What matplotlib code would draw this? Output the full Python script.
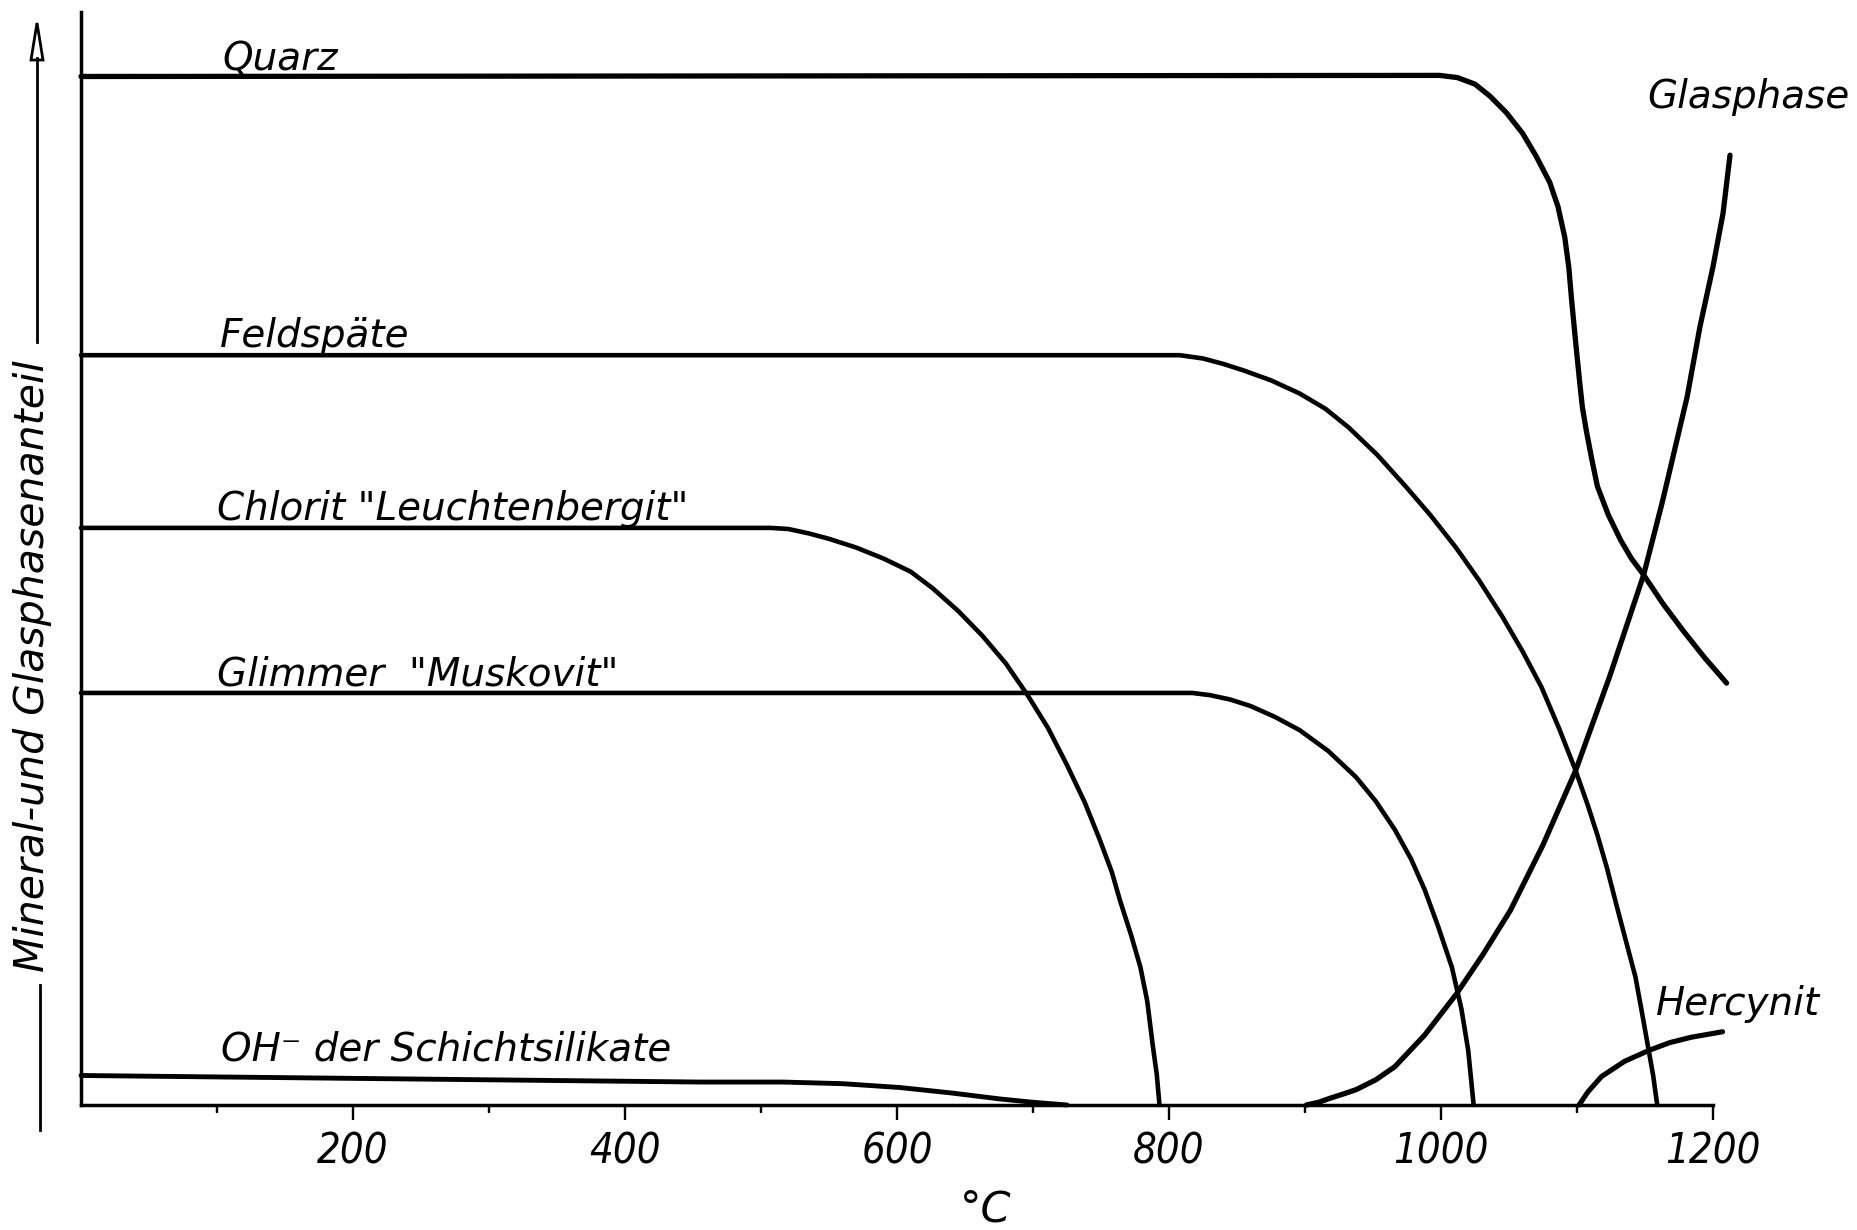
import matplotlib
matplotlib.use("Agg")
import matplotlib.pyplot as plt
from matplotlib.lines import Line2D
from matplotlib.patches import Polygon
from matplotlib import font_manager

# ---------------- data (temperature in °C, relative amount 0..100) ----------------
quarz_T = [0, 999, 1012, 1025, 1036, 1048, 1060, 1070, 1080, 1086, 1091, 1094, 1096, 1099, 1102,
           1104, 1107, 1111, 1115, 1123, 1132, 1140, 1149, 1163, 1178, 1194, 1210]
quarz_v = [94.1, 94.2, 94.0, 93.4, 92.3, 90.8, 88.9, 86.8, 84.4, 82.2, 79.4, 76.6, 73.7, 69.8, 66.1,
           63.8, 61.6, 59.0, 56.6, 54.0, 51.7, 50.0, 48.5, 45.9, 43.4, 40.9, 38.6]

feld_T = [0, 808, 825, 840, 855, 875, 896, 915, 932, 953, 974, 992, 1011, 1028, 1045, 1060, 1074,
          1087, 1099, 1108, 1115, 1122, 1129, 1136, 1143, 1148, 1152, 1156, 1159]
feld_v = [68.6, 68.6, 68.3, 67.8, 67.2, 66.3, 65.1, 63.7, 62.0, 59.5, 56.6, 54.0, 51.0, 48.0, 44.7,
          41.5, 38.2, 34.4, 30.6, 27.4, 24.7, 21.7, 18.3, 15.0, 11.7, 8.3, 5.5, 2.7, 0]

chlorit_T = [0, 507, 520, 535, 550, 570, 590, 610, 626, 645, 663, 680, 696, 711, 725, 738, 749,
             758, 764, 772, 779, 784, 788, 791, 793]
chlorit_v = [52.8, 52.8, 52.7, 52.3, 51.8, 51.0, 50.0, 48.8, 47.3, 45.2, 42.9, 40.4, 37.5, 34.5,
             31.1, 27.7, 24.3, 21.3, 18.7, 15.6, 12.6, 9.5, 5.5, 2.8, 0]

glimmer_T = [0, 817, 830, 845, 860, 878, 896, 917, 937.5, 952, 966, 978, 988, 998, 1008, 1015,
             1020, 1024]
glimmer_v = [37.7, 37.7, 37.5, 37.1, 36.5, 35.5, 34.3, 32.4, 30.0, 27.8, 25.2, 22.5, 19.7, 16.3,
             12.6, 8.8, 5.0, 0]

oh_T = [0, 455, 516, 560, 602, 640, 676, 700, 725]
oh_v = [2.7, 2.1, 2.1, 1.95, 1.6, 1.1, 0.55, 0.25, 0]

glas_T = [901, 910, 918, 928, 937.5, 952, 966, 988, 1011, 1031, 1051, 1075, 1099, 1124, 1149,
          1163, 1181, 1190.4, 1200, 1207.4, 1212.5]
glas_v = [0, 0.25, 0.6, 1.0, 1.4, 2.3, 3.5, 6.4, 10.1, 13.8, 17.8, 23.8, 30.6, 39.2, 48.5,
          55.3, 64.8, 71.2, 76.7, 81.6, 86.9]

herc_T = [1101.5, 1108, 1118, 1135, 1153, 1168, 1184, 1207]
herc_v = [0, 1.2, 2.6, 4.0, 5.0, 5.7, 6.2, 6.7]

xtick_major = [200, 400, 600, 800, 1000, 1200]
xtick_labels = ["200", "400", "600", "800", "1000", "1200"]
xtick_minor = [100, 300, 500, 700, 900, 1100]

labels = {
    "Quarz": (104, 94.7),
    "Feldspäte": (102, 69.35),
    "Chlorit \"Leuchtenbergit\"": (100, 53.5),
    "Glimmer  \"Muskovit\"": (100, 38.4),
    "OH\u207b der Schichtsilikate": (103, 4.1),
    "Glasphase": (1152, 91.2),
    "Hercynit": (1158, 8.2),
}

# ---------------- figure ----------------
W, H = 1858, 1230
fig = plt.figure(figsize=(W / 100, H / 100), dpi=100)
fig.patch.set_facecolor("white")
ax = fig.add_axes([81 / W, 1 - 1105 / H, (1713 - 81) / W, (1105 - 12) / H])
ax.set_xlim(0, 1200)
ax.set_ylim(0, 100)

lw = 3.3
for T, v, w in [(quarz_T, quarz_v, 3.8), (feld_T, feld_v, lw), (chlorit_T, chlorit_v, lw),
                (glimmer_T, glimmer_v, lw), (oh_T, oh_v, 3.5), (glas_T, glas_v, 3.8),
                (herc_T, herc_v, 3.7)]:
    ax.plot(T, v, color="black", lw=w, solid_capstyle="round", solid_joinstyle="round",
            clip_on=False, zorder=3)

for s in ["top", "right"]:
    ax.spines[s].set_visible(False)
for s in ["left", "bottom"]:
    ax.spines[s].set_linewidth(2.5)
    ax.spines[s].set_color("black")

ax.set_yticks([])
ax.set_xticks(xtick_major)
ax.set_xticklabels(xtick_labels)
ax.set_xticks(xtick_minor, minor=True)
ax.tick_params(axis="x", which="major", direction="out", length=11, width=1.7, pad=7)
ax.tick_params(axis="x", which="minor", direction="out", length=6, width=1.7)

# narrow italic font for tick numbers if available
names = {f.name for f in font_manager.fontManager.ttflist}
if "Liberation Sans Narrow" in names:
    tick_fp = dict(family="Liberation Sans Narrow", style="italic", size=34)
else:
    tick_fp = dict(family="DejaVu Sans", style="italic", size=30, stretch="condensed")
for lbl in ax.get_xticklabels():
    lbl.set_fontfamily(tick_fp["family"])
    lbl.set_fontstyle("italic")
    lbl.set_fontsize(tick_fp["size"])
    if "stretch" in tick_fp:
        lbl.set_fontstretch(tick_fp["stretch"])

for txt, (tx, ty) in labels.items():
    ax.text(tx, ty, txt, fontsize=28, style="italic", ha="left", va="baseline",
            family="DejaVu Sans", zorder=4)

# x-axis unit label
fig.text(986 / W, 1 - 1210 / H, "°C", fontsize=31, style="italic", ha="center", va="center",
         family="DejaVu Sans")

# y-axis label with arrow and dash
fig.text(33 / W, 1 - 666 / H, "Mineral-und Glasphasenanteil", rotation=90, fontsize=29.5,
         style="italic", ha="center", va="center", family="DejaVu Sans")
fig.add_artist(Line2D([37 / W, 37 / W], [1 - 342 / H, 1 - 58 / H], color="black", lw=2.0,
                      transform=fig.transFigure))
fig.add_artist(Polygon([[31 / W, 1 - 60 / H], [43 / W, 1 - 60 / H], [37 / W, 1 - 23 / H]],
                       closed=True, fill=False, edgecolor="black", lw=2.0,
                       transform=fig.transFigure))
fig.add_artist(Line2D([40 / W, 40 / W], [1 - 985 / H, 1 - 1130 / H], color="black", lw=2.0,
                      transform=fig.transFigure))

fig.savefig("out.png", dpi=100, facecolor="white")
